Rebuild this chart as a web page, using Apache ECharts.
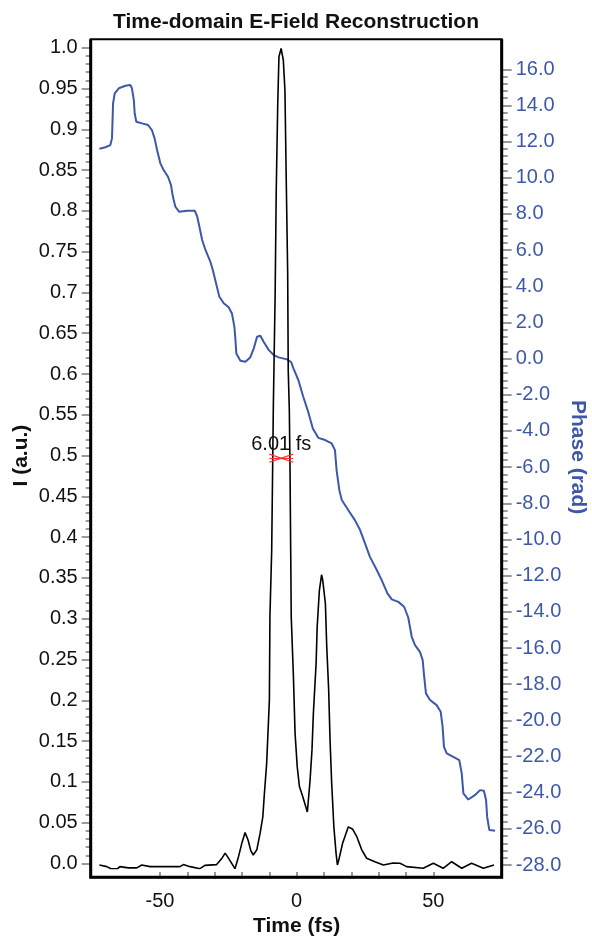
<!DOCTYPE html>
<html>
<head>
<meta charset="utf-8">
<script src="https://cdn.jsdelivr.net/npm/echarts@6/dist/echarts.min.js"></script>
<style>
html, body { margin: 0; padding: 0; background: #fff; }
#main { width: 592px; height: 942px; }
</style>
</head>
<body>
<div id="main"></div>
<script>
// intensity (left axis), time in fs
var intTime = [-72.2, -69.5, -68, -65.5, -64.7, -61.6, -58.5, -56.7, -53.7, -47, -42.7, -41.5, -39, -35.4, -33.6, -29.3, -27.5, -26.2, -24.8, -22.6,
    -21.5, -20, -18.9, -17.8, -16.8, -15.9, -14.6, -13.4, -12.4, -11.9, -11.0, -10.0, -9.8, -9.15, -8.8, -8.55, -7.9, -7.5, -6.95, -6.5,
    -5.7, -4.9, -4.3, -3.9, -3.3, -3.1, -2.7, -2.45, -2.2, -2.0, -1.2, -0.6, 0.2, 1.0, 2.2, 3.9, 4.9, 5.6, 6.1, 7.1,
    7.5, 8.3, 9.1, 9.5, 10.5, 11.0, 11.7, 12.2, 12.8, 13.6, 14.4, 14.9, 15.5, 16.8, 18.9, 19.5, 20.5, 22, 23.8, 25.6,
    28.6, 31.7, 35.3, 37.8, 40.2, 46.3, 50, 53.6, 56.7, 60.4, 64, 68.3, 72.2];
var intensity = [0.0045, 0.0025, 0.0, 0.0, 0.0025, 0.001, 0.001, 0.0045, 0.0025, 0.0025, 0.0025, 0.005, 0.0025, 0.0, 0.004, 0.005, 0.012, 0.019, 0.012, 0.0,
    0.012, 0.032, 0.044, 0.035, 0.022, 0.0167, 0.023, 0.043, 0.063, 0.088, 0.128, 0.205, 0.307, 0.388, 0.49, 0.563, 0.697, 0.823, 0.93, 0.989,
    0.999, 0.985, 0.948, 0.855, 0.725, 0.607, 0.559, 0.49, 0.388, 0.307, 0.234, 0.165, 0.124, 0.1, 0.088, 0.069, 0.108, 0.145, 0.189, 0.25,
    0.295, 0.339, 0.358, 0.352, 0.323, 0.27, 0.218, 0.157, 0.104, 0.051, 0.019, 0.0045, 0.012, 0.031, 0.051, 0.053, 0.048, 0.039, 0.023, 0.0127,
    0.0085, 0.0045, 0.007, 0.0066, 0.0025, 0.0005, 0.0066, 0.0005, 0.0085, 0.0005, 0.0066, 0.0005, 0.0045];

// phase (right axis)
var phaseTime = [-72.2, -70.0, -68.2, -67.6, -67.2, -66.6, -65.1, -62.7, -60.9, -60.3, -59.6, -59.3, -58.7, -56.6, -54.4, -53.0, -52.0, -51.1, -49.9, -48.7,
    -47.1, -46.0, -45.3, -44.4, -43.0, -40.1, -37.3, -36.4, -35.6, -34.6, -33.4, -31.6, -30.7, -29.5, -28.3, -26.7, -24.9, -23.7, -22.8, -22.5,
    -22.1, -20.6, -18.8, -17.0, -15.7, -14.5, -13.3, -12.1, -10.2, -8.4, -6.6, -3.5, -2.0, -1.2, 0.6, 2.4, 4.2, 5.9, 7.9, 10.4,
    12.8, 14.0, 14.6, 15.6, 16.5, 18.9, 21.3, 23.2, 25.0, 26.8, 29.3, 31.1, 33.2, 34.8, 37.2, 39.3, 40.8, 42.1, 43.3, 45.1,
    46.1, 46.6, 47.3, 48.8, 51.2, 52.7, 53.4, 53.9, 54.9, 57.3, 59.5, 60.4, 61.0, 62.8, 65.2, 67.1, 68.5, 69.3, 69.7, 70.5, 72.6];
var phase = [11.61, 11.69, 11.81, 12.18, 14.12, 14.67, 14.95, 15.09, 15.13, 14.95, 14.30, 13.57, 13.10, 13.01, 12.92, 12.64, 12.18, 11.54, 10.80, 10.43,
    10.06, 9.60, 8.95, 8.40, 8.12, 8.18, 8.18, 7.85, 7.29, 6.56, 6.01, 5.36, 4.90, 4.16, 3.42, 3.06, 2.84, 2.50, 1.76, 1.21,
    0.29, -0.12, -0.17, 0.07, 0.57, 1.21, 1.27, 0.93, 0.47, 0.20, 0.07, -0.04, -0.2, -0.54, -1.18, -2.11, -2.94, -3.86, -4.38, -4.50,
    -4.69, -5.06, -6.16, -7.27, -7.82, -8.38, -8.93, -9.48, -10.22, -10.96, -11.69, -12.25, -12.98, -13.31, -13.45, -13.72, -14.3, -15.38, -15.84, -16.21,
    -16.67, -17.50, -18.51, -18.88, -19.16, -19.53, -20.36, -21.47, -21.83, -22.02, -22.20, -22.94, -24.04, -24.38, -24.14, -23.86, -23.90, -24.41, -25.34, -26.07, -26.11];

// FWHM marker
var fwhmText = '6.01 fs';
var fwhmEdges = [-10.0, -1.3];
var halfMax = 0.5;
var fwhmSpread = 0.005;

var timeLabels = [-50, 0, 50];

function pairs(xs, ys) {
    var out = [];
    for (var i = 0; i < xs.length; i++) out.push([xs[i], ys[i]]);
    return out;
}

var blue = '#3d58a8';
var tickGray = '#7a7a7a';
var font = 'Liberation Sans, Arial, sans-serif';

var chart = echarts.init(document.getElementById('main'));

// grids 0/1 hold the data (wide time range), grids 2/3 only draw the visible axes
var option = {
    animation: false,
    textStyle: { fontFamily: font },
    title: {
        text: 'Time-domain E-Field Reconstruction',
        left: 'center',
        top: 7,
        textStyle: { fontSize: 21, fontWeight: 'bold', color: '#111', fontFamily: font }
    },
    grid: [
        { left: 78.1, right: 76.7, top: 47.7, bottom: 73.3 },
        { left: 78.1, right: 76.7, top: 69.3, bottom: 77 },
        { left: 160, right: 158.7, top: 47.7, bottom: 73.3 },
        { left: 160, right: 158.7, top: 69.3, bottom: 77 }
    ],
    xAxis: [
        { type: 'value', gridIndex: 0, min: -80, max: 80, show: false },
        { type: 'value', gridIndex: 1, min: -80, max: 80, show: false },
        {
            type: 'value', gridIndex: 2, min: -50, max: 50, interval: 10,
            offset: 8.6,
            axisLine: { show: false, onZero: false },
            splitLine: { show: false },
            axisTick: { show: true, length: 7, lineStyle: { color: tickGray, width: 1.5 } },
            axisLabel: {
                fontSize: 20, color: '#111', margin: 19,
                formatter: function (v) { return timeLabels.indexOf(v) >= 0 ? String(v) : ''; }
            },
            name: 'Time (fs)',
            nameLocation: 'middle',
            nameGap: 42,
            nameTextStyle: { fontSize: 21, fontWeight: 'bold', color: '#111' }
        },
        { type: 'value', gridIndex: 3, min: -50, max: 50, show: false }
    ],
    yAxis: [
        { type: 'value', gridIndex: 0, min: 0, max: 1, show: false },
        { type: 'value', gridIndex: 1, min: -28, max: 16, show: false },
        {
            type: 'value', gridIndex: 2, min: 0, max: 1, interval: 0.05,
            position: 'left', offset: 69.3,
            axisLine: { show: false, onZero: false },
            splitLine: { show: false },
            axisTick: { show: true, length: 9, lineStyle: { color: tickGray, width: 1.5 } },
            minorTick: { show: true, splitNumber: 5, length: 5, lineStyle: { color: tickGray, width: 1.5 } },
            axisLabel: {
                fontSize: 20, color: '#111', margin: 13,
                formatter: function (v) {
                    if (v === 0) return '0.0';
                    if (v === 1) return '1.0';
                    return String(+v.toFixed(2));
                }
            },
            name: 'I (a.u.)',
            nameLocation: 'middle',
            nameGap: 59,
            nameTextStyle: { fontSize: 21, fontWeight: 'bold', color: '#111' }
        },
        {
            type: 'value', gridIndex: 3, min: -28, max: 16, interval: 2,
            position: 'right', offset: 68.4,
            axisLine: { show: false, onZero: false },
            splitLine: { show: false },
            axisTick: { show: true, length: 10, lineStyle: { color: tickGray, width: 1.5 } },
            minorTick: { show: true, splitNumber: 5, length: 6, lineStyle: { color: tickGray, width: 1.5 } },
            axisLabel: {
                fontSize: 20, color: blue, margin: 14,
                formatter: function (v) { return v.toFixed(1); }
            },
            name: 'Phase (rad)',
            nameLocation: 'middle',
            nameRotate: -90,
            nameGap: 66,
            nameTextStyle: { fontSize: 21, fontWeight: 'bold', color: blue, padding: [0, 20, 0, 0] }
        }
    ],
    graphic: [
        {
            type: 'rect', z: 100,
            shape: { x: 90.7, y: 39.3, width: 411, height: 838 },
            style: { fill: 'none', stroke: '#000', lineWidth: 2 }
        },
        {
            type: 'polyline', z: 100,
            shape: { points: [[90.7, 39.3], [90.7, 877.3], [501.7, 877.3], [501.7, 39.3]] },
            style: { fill: 'none', stroke: '#000', lineWidth: 3 }
        }
    ],
    series: [
        {
            name: 'Phase',
            type: 'line',
            xAxisIndex: 1, yAxisIndex: 1,
            data: pairs(phaseTime, phase),
            showSymbol: false,
            lineStyle: { color: blue, width: 2 },
            itemStyle: { color: blue },
            z: 2
        },
        {
            name: 'Intensity',
            type: 'line',
            xAxisIndex: 0, yAxisIndex: 0,
            data: pairs(intTime, intensity),
            showSymbol: false,
            lineStyle: { color: '#000', width: 1.6 },
            itemStyle: { color: '#000' },
            z: 3,
            markLine: {
                silent: true,
                symbol: 'none',
                animation: false,
                lineStyle: { color: '#ff3030', width: 1.2, type: 'solid' },
                label: { show: false },
                data: [
                    [
                        {
                            coord: [fwhmEdges[0], halfMax],
                            label: {
                                show: true, position: 'middle', formatter: fwhmText,
                                fontSize: 20, color: '#111', distance: 4
                            }
                        },
                        { coord: [fwhmEdges[1], halfMax] }
                    ],
                    [
                        { coord: [fwhmEdges[0], halfMax + fwhmSpread] },
                        { coord: [fwhmEdges[1], halfMax - fwhmSpread] }
                    ],
                    [
                        { coord: [fwhmEdges[0], halfMax - fwhmSpread] },
                        { coord: [fwhmEdges[1], halfMax + fwhmSpread] }
                    ]
                ]
            }
        }
    ]
};

chart.setOption(option);
</script>
</body>
</html>
